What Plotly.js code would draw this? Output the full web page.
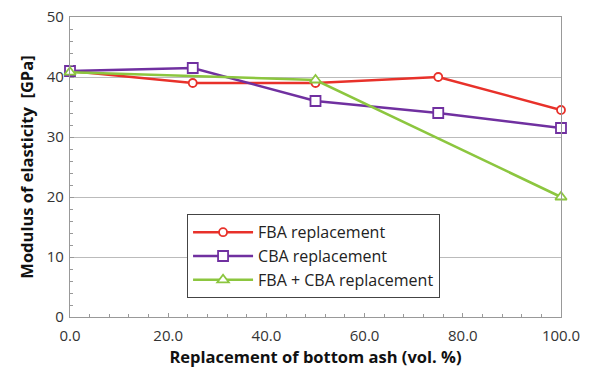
<!DOCTYPE html>
<html><head><meta charset="utf-8">
<script src="https://cdn.plot.ly/plotly-3.0.1.min.js"></script>
<style>html,body{margin:0;padding:0;background:#fff}</style>
</head><body>
<div id="chart" style="width:589px;height:374px"></div>
<script>
const xFBA = [0, 25, 50, 75, 100];
const yFBA = [41, 39, 39, 40, 34.5];
const xCBA = [0, 25, 50, 75, 100];
const yCBA = [41, 41.5, 36, 34, 31.5];
const xMix = [0, 50, 100];
const yMix = [40.8, 39.5, 20];
const names = ["FBA replacement", "CBA replacement", "FBA + CBA replacement"];
const xTicks = [0, 20, 40, 60, 80, 100];
const xTickText = ["0.0", "20.0", "40.0", "60.0", "80.0", "100.0"];

const fontFam = "Open Sans, Noto Sans, sans-serif";
function tr(x, y, name, color, symbol, size) {
  return {x: x, y: y, name: name, type: 'scatter', mode: 'lines+markers',
    line: {color: color, width: 2.5},
    marker: {symbol: symbol, size: size, color: '#ffffff', line: {color: color, width: 1.8}},
    cliponaxis: false};
}
const data = [
  tr(xFBA, yFBA, names[0], '#e8312a', 'circle', 8),
  tr(xCBA, yCBA, names[1], '#7030a0', 'square', 10),
  tr(xMix, yMix, names[2], '#8cc63f', 'triangle-up', 10)
];
const layout = {
  width: 589, height: 374,
  margin: {l: 70, r: 28, t: 17, b: 57},
  paper_bgcolor: '#fff', plot_bgcolor: '#fff',
  font: {family: fontFam, size: 15, color: '#333'},
  showlegend: true,
  legend: {x: 0.238, y: 0.343, xanchor: 'left', yanchor: 'top', bordercolor: '#444', borderwidth: 1.2,
    bgcolor: '#fff', font: {size: 16, color: '#222'}, tracegroupgap: 0, itemwidth: 60},
  xaxis: {range: [0, 100], tickvals: xTicks, ticktext: xTickText, showgrid: false,
    showline: true, linecolor: '#999', linewidth: 1.2, mirror: true, zeroline: false,
    ticks: 'inside', ticklen: 4, tickcolor: '#999', ticklabelstandoff: 5,
    minor: {dtick: 4, ticks: 'inside', ticklen: 3, tickcolor: '#999'},
    tickfont: {size: 15, color: '#333'},
    title: {text: 'Replacement of bottom ash (vol. %)', font: {size: 16.5, color: '#111', weight: 'bold'}, standoff: 5}},
  yaxis: {range: [0, 50], dtick: 10, showgrid: true, gridcolor: '#bbb', gridwidth: 1,
    showline: true, linecolor: '#999', linewidth: 1.2, mirror: true, zeroline: false,
    ticks: 'inside', ticklen: 4, tickcolor: '#999', ticklabelstandoff: 2,
    minor: {dtick: 2, ticks: 'inside', ticklen: 3, tickcolor: '#999'},
    tickfont: {size: 15, color: '#333'},
    title: {text: 'Modulus of elasticity  [GPa]', font: {size: 16.5, color: '#111', weight: 'bold'}, standoff: 8}}
};
Plotly.newPlot('chart', data, layout, {displayModeBar: false, staticPlot: true});
</script>
</body></html>
